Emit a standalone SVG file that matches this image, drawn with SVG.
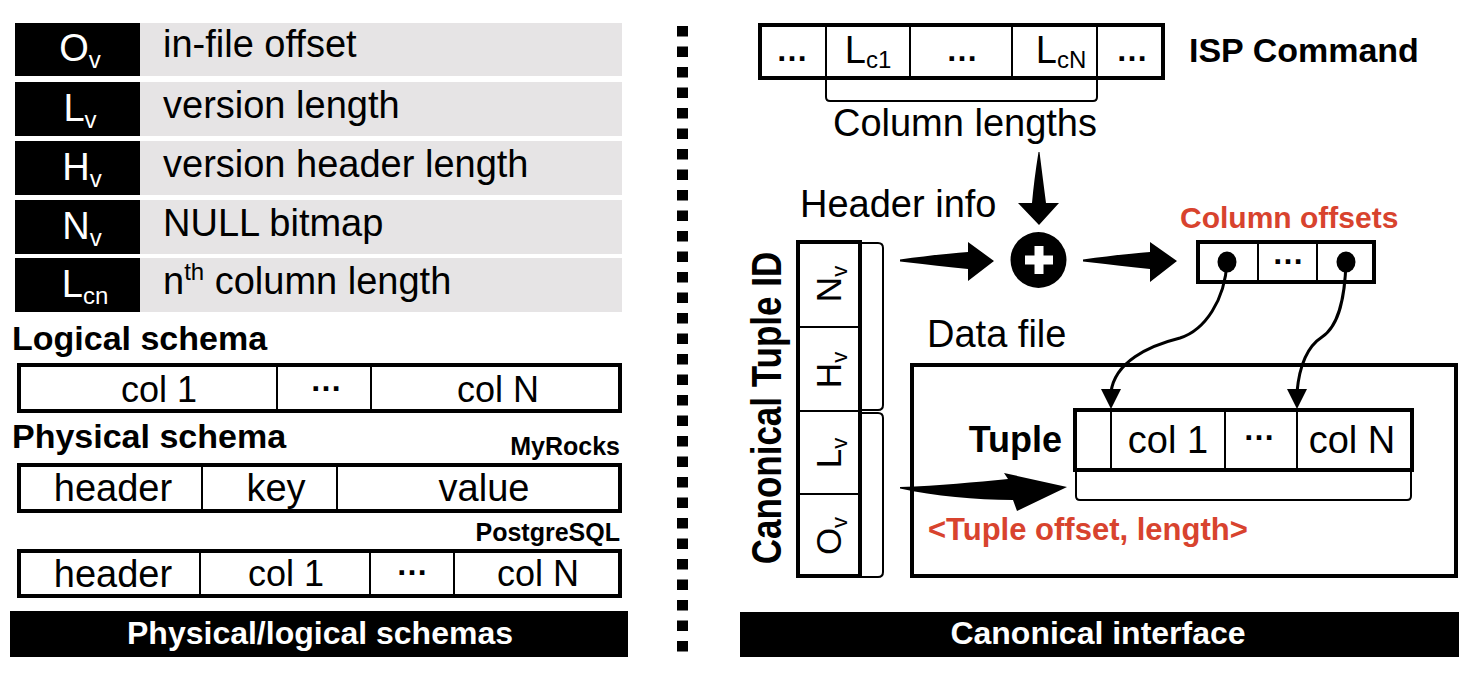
<svg xmlns="http://www.w3.org/2000/svg" width="1476" height="678" viewBox="0 0 1476 678">
<style>
text{font-family:"Liberation Sans",Arial,sans-serif;fill:#000}
.t{font-size:36px}
.lg{font-size:38px}
.b{font-weight:bold}
.w{fill:#fff}
.red{fill:#D8432E}
.box{fill:#fff;stroke:#000;stroke-width:4}
.div{stroke:#000;stroke-width:2;fill:none}
.thin{stroke:#000;stroke-width:2;fill:none}
.gray{fill:#e6e4e5}
.blk{fill:#000}
.dots{font-size:32px;font-weight:bold}
.sub{font-size:24px}
</style>
<rect width="1476" height="678" fill="#fff"/>

<g id="legend">
  <g id="leg-ov">
    <rect class="blk" x="15" y="23" width="125" height="53"/>
    <rect class="gray" x="140" y="23" width="482" height="53"/>
    <text class="lg w" x="80" y="61" text-anchor="middle">O<tspan class="sub" dy="7">v</tspan></text>
    <text class="lg" x="163" y="57">in-file offset</text>
  </g>
  <g id="leg-lv">
    <rect class="blk" x="15" y="82" width="125" height="54"/>
    <rect class="gray" x="140" y="82" width="482" height="54"/>
    <text class="lg w" x="80" y="121" text-anchor="middle">L<tspan class="sub" dy="7">v</tspan></text>
    <text class="lg" x="163" y="118">version length</text>
  </g>
  <g id="leg-hv">
    <rect class="blk" x="15" y="141" width="125" height="54"/>
    <rect class="gray" x="140" y="141" width="482" height="54"/>
    <text class="lg w" x="82" y="180" text-anchor="middle">H<tspan class="sub" dy="7">v</tspan></text>
    <text class="lg" x="163" y="177">version header length</text>
  </g>
  <g id="leg-nv">
    <rect class="blk" x="15" y="200" width="125" height="54"/>
    <rect class="gray" x="140" y="200" width="482" height="54"/>
    <text class="lg w" x="82" y="239" text-anchor="middle">N<tspan class="sub" dy="7">v</tspan></text>
    <text class="lg" x="163" y="236">NULL bitmap</text>
  </g>
  <g id="leg-lcn">
    <rect class="blk" x="15" y="258" width="125" height="54"/>
    <rect class="gray" x="140" y="258" width="482" height="54"/>
    <text class="lg w" x="85" y="297" text-anchor="middle">L<tspan class="sub" dy="7">cn</tspan></text>
    <text class="lg" x="163" y="294">n<tspan class="sub" dy="-14">th</tspan><tspan dy="14"> column length</tspan></text>
  </g>
</g>

<g id="logical-schema">
  <text class="b" x="12" y="350" font-size="34">Logical schema</text>
  <rect class="box" x="19" y="365" width="601" height="46"/>
  <line class="div" x1="277" y1="365" x2="277" y2="411"/>
  <line class="div" x1="371" y1="365" x2="371" y2="411"/>
  <text class="t" x="159" y="402" text-anchor="middle">col 1</text>
  <text class="dots" x="326" y="391" text-anchor="middle">…</text>
  <text class="t" x="498" y="402" text-anchor="middle">col N</text>
</g>

<g id="physical-schema">
  <text class="b" x="12" y="448" font-size="34">Physical schema</text>
  <text class="b" x="620" y="455" font-size="25" text-anchor="end">MyRocks</text>
  <rect class="box" x="19" y="465" width="601" height="46"/>
  <line class="div" x1="202" y1="465" x2="202" y2="511"/>
  <line class="div" x1="337" y1="465" x2="337" y2="511"/>
  <text class="lg" x="113" y="501" text-anchor="middle">header</text>
  <text class="lg" x="276" y="501" text-anchor="middle">key</text>
  <text class="lg" x="484" y="501" text-anchor="middle">value</text>

  <text class="b" x="620" y="541" font-size="25" text-anchor="end">PostgreSQL</text>
  <rect class="box" x="19" y="551" width="601" height="45"/>
  <line class="div" x1="200" y1="551" x2="200" y2="596"/>
  <line class="div" x1="370" y1="551" x2="370" y2="596"/>
  <line class="div" x1="454" y1="551" x2="454" y2="596"/>
  <text class="lg" x="113" y="587" text-anchor="middle">header</text>
  <text class="t" x="286" y="586" text-anchor="middle">col 1</text>
  <text class="dots" x="412" y="575" text-anchor="middle">…</text>
  <text class="t" x="538" y="586" text-anchor="middle">col N</text>
</g>

<g id="bar-left">
  <rect class="blk" x="10" y="611" width="618" height="46"/>
  <text class="b w" x="320" y="644" font-size="32" text-anchor="middle">Physical/logical schemas</text>
</g>

<g id="separator">
  <line x1="682.5" y1="26" x2="682.5" y2="652" stroke="#000" stroke-width="11" stroke-dasharray="10.5 10"/>
</g>

<g id="isp-command">
  <rect class="box" x="760" y="25" width="403" height="53"/>
  <line class="div" x1="826" y1="25" x2="826" y2="78"/>
  <line class="div" x1="910" y1="25" x2="910" y2="78"/>
  <line class="div" x1="1012" y1="25" x2="1012" y2="78"/>
  <line class="div" x1="1097" y1="25" x2="1097" y2="78"/>
  <text class="dots" x="792" y="61" text-anchor="middle">…</text>
  <text class="lg" x="868" y="63" text-anchor="middle">L<tspan class="sub" font-size="26" dy="5">c1</tspan></text>
  <text class="dots" x="962" y="61" text-anchor="middle">…</text>
  <text class="lg" x="1061" y="63" text-anchor="middle">L<tspan class="sub" font-size="26" dy="5">cN</tspan></text>
  <text class="dots" x="1132" y="61" text-anchor="middle">…</text>
  <text class="b" x="1189" y="62" font-size="34">ISP Command</text>
  <path class="thin" d="M826,80 V97 Q826,101 830,101 H1093 Q1097,101 1097,97 V80"/>
  <text class="lg" x="965" y="136" text-anchor="middle">Column lengths</text>
</g>

<g id="plus">
  <circle cx="1038.5" cy="260" r="28" fill="#000"/>
  <rect x="1025" y="255.5" width="28" height="9" fill="#fff"/>
  <rect x="1034.5" y="246" width="9" height="28" fill="#fff"/>
</g>

<g id="header-info">
  <text class="lg" x="800" y="217">Header info</text>
</g>

<g id="column-offsets">
  <text class="b red" x="1180" y="228" font-size="30">Column offsets</text>
  <rect class="box" x="1198" y="242" width="176" height="40"/>
  <line class="div" x1="1258" y1="242" x2="1258" y2="282"/>
  <line class="div" x1="1317" y1="242" x2="1317" y2="282"/>
  <ellipse cx="1227" cy="262" rx="9.5" ry="10.5" fill="#000"/>
  <text class="dots" x="1288" y="264" font-size="28" text-anchor="middle">…</text>
  <ellipse cx="1346" cy="262" rx="9.5" ry="10.5" fill="#000"/>
</g>

<g id="tuple-id">
  <text class="b" transform="translate(781,408) scale(1.2,1) rotate(-90)" font-size="35" text-anchor="middle">Canonical Tuple ID</text>
  <rect class="box" x="798" y="242" width="62" height="334"/>
  <line class="div" x1="798" y1="327" x2="860" y2="327"/>
  <line class="div" x1="798" y1="411" x2="860" y2="411"/>
  <line class="div" x1="798" y1="494" x2="860" y2="494"/>
  <text transform="translate(841,284) rotate(-90)" font-size="35" text-anchor="middle">N<tspan font-size="22" dy="6">v</tspan></text>
  <text transform="translate(841,370) rotate(-90)" font-size="35" text-anchor="middle">H<tspan font-size="22" dy="6">v</tspan></text>
  <text transform="translate(841,453) rotate(-90)" font-size="35" text-anchor="middle">L<tspan font-size="22" dy="6">v</tspan></text>
  <text transform="translate(841,536) rotate(-90)" font-size="35" text-anchor="middle">O<tspan font-size="22" dy="6">v</tspan></text>
  <path class="thin" d="M862,243 H878 Q883,243 883,248 V405 Q883,410 878,410 H862"/>
  <path class="thin" d="M862,413 H878 Q883,413 883,418 V572 Q883,577 878,577 H862"/>
</g>

<g id="data-file">
  <text class="lg" x="927" y="347">Data file</text>
  <rect class="box" x="912" y="365" width="544" height="211"/>
  <text class="b" x="1062" y="452" font-size="36" text-anchor="end">Tuple</text>
  <rect class="box" x="1075" y="410" width="337" height="60"/>
  <line class="div" x1="1111" y1="410" x2="1111" y2="470"/>
  <line class="div" x1="1225" y1="410" x2="1225" y2="470"/>
  <line class="div" x1="1297" y1="410" x2="1297" y2="470"/>
  <text class="lg" x="1168" y="453" text-anchor="middle">col 1</text>
  <text class="dots" x="1259" y="440" text-anchor="middle">…</text>
  <text class="lg" x="1352" y="453" text-anchor="middle">col N</text>
  <path class="thin" d="M1076,472 V496 Q1076,500 1080,500 H1407 Q1411,500 1411,496 V472"/>
  <text class="b red" x="928" y="540" font-size="31">&lt;Tuple offset, length&gt;</text>
</g>

<g id="bar-right">
  <rect class="blk" x="740" y="612" width="719" height="45"/>
  <text class="b w" x="1098" y="644" font-size="32" text-anchor="middle">Canonical interface</text>
</g>

<g id="connectors">
  <path fill="#000" d="M1038.5,152 Q1034,180 1032,203 L1018,203 L1039,225 L1059,203 L1046,203 Q1043,180 1039.5,152 Z"/>
  <path fill="#000" d="M900,259.5 Q940,254 968,252 L968,242 L994,261 L968,281 L968,269 Q940,266 900,261.5 Z"/>
  <path fill="#000" d="M1083,259.5 Q1123,254 1150,252 L1150,242 L1177,261 L1150,282 L1150,269 Q1123,266 1083,261.5 Z"/>
  <path fill="#000" d="M900,487 C940,486 975,482 1008,479 L1004,473 L1067,487 L1017,511 L1013,500 C975,500 935,496 900,488.5 Z"/>
  <path fill="none" stroke="#000" stroke-width="3" d="M1227,262 C1225,300 1205,330 1180,338 C1148,346 1115,362 1111,392"/>
  <polygon fill="#000" points="1101,389 1121,389 1111,409"/>
  <path fill="none" stroke="#000" stroke-width="3" d="M1346,262 C1345,295 1340,325 1322,337 C1305,348 1299,370 1297,392"/>
  <polygon fill="#000" points="1287,389 1307,389 1297,409"/>
</g>
</svg>
